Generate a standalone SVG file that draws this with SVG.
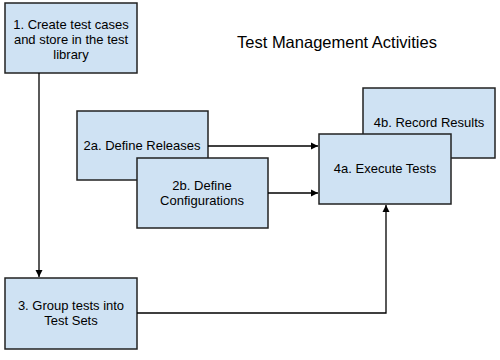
<svg xmlns="http://www.w3.org/2000/svg" width="500" height="360" viewBox="0 0 500 360">
<defs>
<marker id="ah" markerWidth="8" markerHeight="8" refX="7" refY="4" orient="auto" markerUnits="userSpaceOnUse">
<path d="M0,0.5 L7,4 L0,7.5 Z" fill="#000"/>
</marker>
<style>
.box{fill:#cfe2f3;stroke:#222;stroke-width:1.5}
.t{font-family:"Liberation Sans",Arial,sans-serif;font-size:13px;fill:#000;text-anchor:middle}
.c{fill:none;stroke:#000;stroke-width:1.3}
</style>
</defs>
<rect width="500" height="360" fill="#fff"/>
<text x="337" y="48" style="font-family:'Liberation Sans',Arial,sans-serif;font-size:16.5px;text-anchor:middle">Test Management Activities</text>
<g id="n1"><rect class="box" x="5" y="3" width="132" height="70"/>
<text class="t" x="71" y="29">1. Create test cases</text>
<text class="t" x="71" y="44">and store in the test</text>
<text class="t" x="71" y="59">library</text></g>
<g id="n3"><rect class="box" x="5" y="278" width="132" height="71"/>
<text class="t" x="71" y="310">3. Group tests into</text>
<text class="t" x="71" y="325">Test Sets</text></g>
<g id="n2a"><rect class="box" x="77" y="111" width="131" height="69"/>
<text class="t" x="142" y="150">2a. Define Releases</text></g>
<g id="n2b"><rect class="box" x="137" y="158" width="131" height="70"/>
<text class="t" x="202" y="190">2b. Define</text>
<text class="t" x="202" y="205">Configurations</text></g>
<g id="n4b"><rect class="box" x="363" y="88" width="132" height="70"/>
<text class="t" x="429" y="127">4b. Record Results</text></g>
<g id="n4a"><rect class="box" x="319" y="134" width="132" height="70"/>
<text class="t" x="385" y="173">4a. Execute Tests</text></g>
<g id="connectors">
<path class="c" d="M39,73 V277" marker-end="url(#ah)"/>
<path class="c" d="M208,146 H318" marker-end="url(#ah)"/>
<path class="c" d="M268,193 H318" marker-end="url(#ah)"/>
<path class="c" d="M137,313 H386 V205" marker-end="url(#ah)"/>
</g>
</svg>
